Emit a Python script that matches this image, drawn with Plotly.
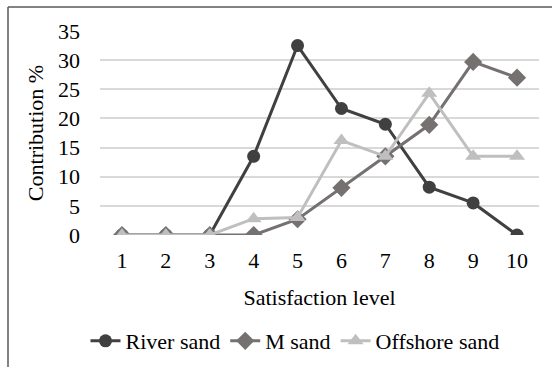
import plotly.graph_objects as go

levels = ["1", "2", "3", "4", "5", "6", "7", "8", "9", "10"]
river_sand = [0, 0, 0, 13.5, 32.5, 21.7, 19.0, 8.2, 5.5, 0]
m_sand = [0, 0, 0, 0, 2.7, 8.1, 13.5, 18.9, 29.7, 27.0]
offshore_sand = [0, 0, 0, 2.8, 3.0, 16.2, 13.5, 24.3, 13.5, 13.5]
y_ticks = [0, 5, 10, 15, 20, 25, 30, 35]

FONT = "Liberation Serif, Times New Roman, DejaVu Serif, serif"
FS = 22
W, H = 552, 367
ML, MR, MT, MB = 100, 13, 31, 132
PW, PH = W - ML - MR, H - MT - MB


def px_x(x):
    return (x - ML) / PW


def px_y(y):
    return (H - MB - y) / PH


fig = go.Figure()
fig.add_trace(go.Scatter(x=levels, y=river_sand, name="River sand", mode="lines+markers",
                         line=dict(color="#404040", width=3),
                         marker=dict(symbol="circle", size=13, color="#404040")))
fig.add_trace(go.Scatter(x=levels, y=m_sand, name="M sand", mode="lines+markers",
                         line=dict(color="#767171", width=3),
                         marker=dict(symbol="diamond", size=14, color="#767171")))
fig.add_trace(go.Scatter(x=levels, y=offshore_sand, name="Offshore sand", mode="lines+markers",
                         line=dict(color="#bfbfbf", width=3),
                         marker=dict(symbol="triangle-up", size=14, color="#bfbfbf")))

fig.update_layout(
    width=W, height=H,
    margin=dict(l=ML, r=MR, t=MT, b=MB, autoexpand=False),
    paper_bgcolor="white", plot_bgcolor="white",
    font=dict(family=FONT, size=FS, color="black"),
    showlegend=True,
    legend=dict(orientation="h", x=px_x(295), y=px_y(341), xanchor="center", yanchor="middle",
                font=dict(family=FONT, size=FS, color="black"),
                itemwidth=30, tracegroupgap=0, bgcolor="rgba(0,0,0,0)"),
    xaxis=dict(type="category", range=[-0.5, 9.5], showgrid=False, showline=False,
               zeroline=False, ticks="", ticklabelstandoff=10, automargin=False,
               title=dict(text="Satisfaction level", standoff=17,
                          font=dict(family=FONT, size=FS, color="black"))),
    yaxis=dict(range=[0, 35], tickvals=y_ticks, showgrid=True, gridcolor="#d9d9d9",
               gridwidth=1.5, zeroline=False, showline=False, ticks="",
               ticklabelstandoff=19, automargin=False,
               title=dict(text="Contribution %", standoff=8,
                          font=dict(family=FONT, size=FS, color="black"))),
    shapes=[
        dict(type="line", xref="paper", yref="paper", x0=px_x(8), x1=px_x(8),
             y0=px_y(7), y1=px_y(372), line=dict(color="#595959", width=1.5)),
        dict(type="line", xref="paper", yref="paper", x0=px_x(8), x1=px_x(560),
             y0=px_y(7), y1=px_y(7), line=dict(color="#595959", width=1.5)),
    ],
)

fig.write_html("out.html")
